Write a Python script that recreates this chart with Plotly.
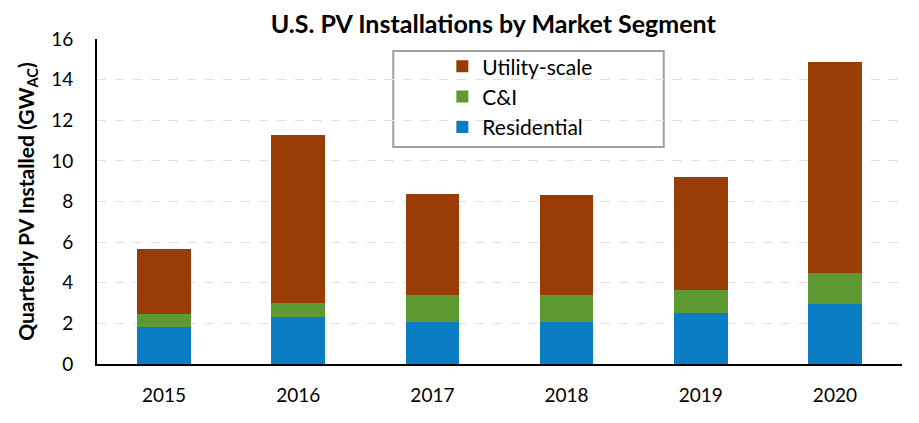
import plotly.graph_objects as go

years = ["2015", "2016", "2017", "2018", "2019", "2020"]
residential = [1.80, 2.31, 2.05, 2.05, 2.49, 2.94]
c_and_i = [0.66, 0.68, 1.33, 1.33, 1.14, 1.56]
utility = [3.18, 8.29, 5.01, 4.93, 5.60, 10.39]

FONT = "Lato"

fig = go.Figure()
fig.add_trace(go.Bar(x=years, y=residential, name="Residential", marker_color="#0A7DC4"))
fig.add_trace(go.Bar(x=years, y=c_and_i, name="C&I", marker_color="#5E9A32"))
fig.add_trace(go.Bar(x=years, y=utility, name="Utility-scale", marker_color="#9A3C06"))

fig.update_traces(marker_line_width=0)

# page has an 8px body margin, so margins are offset to line the plot up
fig.update_layout(
    width=919, height=423,
    barmode="stack", bargap=0.6,
    paper_bgcolor="white", plot_bgcolor="white",
    margin=dict(l=89, r=25, t=31, b=67, autoexpand=False),
    font=dict(family=FONT, size=16, color="black"),
    title=dict(text="<b>U.S. PV Installations by Market Segment</b>",
               x=0.528, xanchor="center", y=0.962, yanchor="middle",
               font=dict(size=25, family=FONT)),
    legend=dict(x=0.429, y=0.978, xanchor="left", yanchor="top",
                traceorder="reversed", bgcolor="rgba(0,0,0,0)",
                font=dict(size=21), tracegroupgap=0, itemsizing="constant"),
    shapes=[dict(type="rect", xref="paper", yref="paper",
                 x0=0.368, x1=0.704, y0=0.668, y1=0.963,
                 line=dict(color="#A0A0A0", width=2), fillcolor="white", layer="below")],
)

fig.update_yaxes(range=[0, 16], dtick=2, showline=True, linecolor="black", linewidth=2,
                 showgrid=True, gridcolor="#E0E0E0", griddash="dash", gridwidth=1,
                 zeroline=False, ticks="", ticklabelstandoff=18, automargin=False,
                 tickfont=dict(size=19),
                 title=dict(text="<b>Quarterly PV Installed (GW<sub>AC</sub>)</b>",
                            font=dict(size=21), standoff=11))
fig.update_xaxes(showline=True, linecolor="black", linewidth=2, ticks="", automargin=False,
                 ticklabelstandoff=13, tickfont=dict(size=19))

fig.write_html("out.html")
